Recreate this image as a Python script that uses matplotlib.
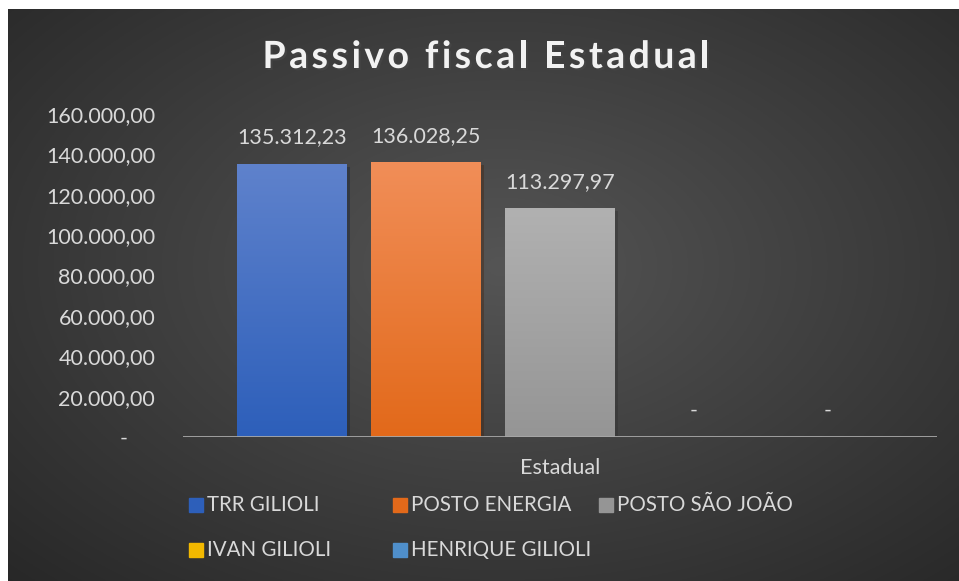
import numpy as np
import matplotlib.pyplot as plt
import matplotlib.patheffects as pe
from matplotlib.patches import Rectangle
from matplotlib.colors import LinearSegmentedColormap

# data
series = ['TRR GILIOLI', 'POSTO ENERGIA', 'POSTO SÃO JOÃO', 'IVAN GILIOLI', 'HENRIQUE GILIOLI']
values = [135312.23, 136028.25, 113297.97, 0.0, 0.0]
category = 'Estadual'
yticks = [0, 20000, 40000, 60000, 80000, 100000, 120000, 140000, 160000]
title = 'Passivo fiscal Estadual'

# styling
top_colors = ['#5f82cc', '#f18e58', '#b1b1b1', '#ffd43b', '#6aa6dc']
bottom_colors = ['#2d5fba', '#e2691a', '#959595', '#f2b800', '#4f8fcb']
text_col = '#d9d9d9'
W, H = 959, 581

plt.rcParams['font.family'] = ['Lato', 'DejaVu Sans']


def fmt_br(v):
    if v == 0:
        return '-'
    s = f'{v:,.2f}'
    return s.replace(',', 'X').replace('.', ',').replace('X', '.')


fig = plt.figure(figsize=(W / 100, H / 100), dpi=100, facecolor='white')

# radial dark background (white strip on top / left like the source)
bg = fig.add_axes([8 / W, 0, 1 - 8 / W, 1 - 9 / H])
yy, xx = np.mgrid[0:300, 0:500]
cx, cy = 0.52, 0.45
r = np.sqrt(((xx / 499) - cx) ** 2 + ((yy / 299) - cy) ** 2 * 0.9)
r = np.clip(r / 0.75, 0, 1)
c_in = np.array([0x55, 0x55, 0x55]) / 255
c_out = np.array([0x27, 0x27, 0x27]) / 255
img = c_in[None, None, :] * (1 - r[..., None]) + c_out[None, None, :] * r[..., None]
bg.imshow(img, aspect='auto', extent=[0, 1, 0, 1], origin='upper')
bg.set_axis_off()

# main axes
ax = fig.add_axes([183 / W, 144 / H, (937 - 183) / W, (437 - 114) / H])
ax.patch.set_alpha(0)
ax.set_xlim(-0.5, 0.5)
ax.set_ylim(0, 160000)

pitch = 134 / 754
width = 110 / 754
xs = [(i - 2) * pitch for i in range(len(values))]

bars = ax.bar(xs, values, width=width, color=bottom_colors, zorder=2,
              path_effects=[pe.SimplePatchShadow(offset=(2, -2), alpha=0.35), pe.Normal()])
grad = np.linspace(0, 1, 256).reshape(-1, 1)
for b, v, ct, cb in zip(bars, values, top_colors, bottom_colors):
    if v <= 0:
        continue
    cmap = LinearSegmentedColormap.from_list('g', [cb, ct])
    im = ax.imshow(grad, extent=[b.get_x(), b.get_x() + b.get_width(), 0, v],
                   origin='lower', aspect='auto', cmap=cmap, zorder=3)
    im.set_clip_path(b)
ax.set_xlim(-0.5, 0.5)
ax.set_ylim(0, 160000)

for x, v in zip(xs, values):
    ax.annotate(fmt_br(v), (x, v), xytext=(0, 19), textcoords='offset points',
                ha='center', va='center', color=text_col, fontsize=15.5)

ax.axhline(0, color='#a8a8a8', lw=2, zorder=4)

ax.set_yticks(yticks)
ax.set_yticklabels([fmt_br(t) if t else '-     ' for t in yticks])
ax.tick_params(axis='y', length=0, pad=20, labelcolor=text_col, labelsize=15.5)
ax.set_xticks([0])
ax.set_xticklabels([category])
ax.tick_params(axis='x', length=0, pad=15, labelcolor=text_col, labelsize=15.5)
for s in ax.spines.values():
    s.set_visible(False)

# title with extra letter spacing (Excel style)
renderer = fig.canvas.get_renderer()
title_kw = dict(fontsize=27, fontweight='bold', color='#f2f2f2', va='center', ha='left')
spacing = 3.4
widths = []
for ch in title:
    t = fig.text(0, 0, ch if ch != ' ' else 'a a', **title_kw)
    w = t.get_window_extent(renderer).width
    if ch == ' ':
        t2 = fig.text(0, 0, 'aa', **title_kw)
        w = w - t2.get_window_extent(renderer).width
        t2.remove()
    widths.append(w)
    t.remove()
total = sum(widths) + spacing * (len(title) - 1)
x0 = 486 - total / 2
for ch, w in zip(title, widths):
    if ch != ' ':
        fig.text(x0 / W, 1 - 57 / H, ch, **title_kw,
                 path_effects=[pe.SimplePatchShadow(offset=(1.5, -1.5), alpha=0.6), pe.Normal()])
    x0 += w + spacing

# legend, laid out like the spreadsheet one (3 equal columns)
col_x = [189, 393, 599]
row_y = [505, 550]
for i, (name, ct, cb) in enumerate(zip(series, top_colors, bottom_colors)):
    px = col_x[i % 3]
    py = row_y[i // 3]
    fig.patches.append(Rectangle((px / W, 1 - (py + 7) / H), 14 / W, 14 / H,
                                 transform=fig.transFigure, color=cb, figure=fig))
    fig.text((px + 18) / W, 1 - py / H, name, ha='left', va='center',
             color=text_col, fontsize=14.8)

fig.savefig('out.png', dpi=100)
